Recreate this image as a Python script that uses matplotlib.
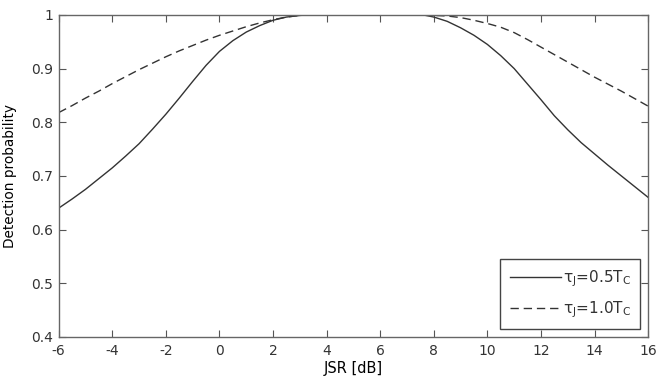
import matplotlib
matplotlib.use('Agg')
import matplotlib.pyplot as plt
import numpy as np

# JSR [dB] and detection probability
# (middle section lies on the top edge and is not drawn)
jsr = [-6, -5.5, -5, -4.5, -4, -3.5, -3, -2.5, -2, -1.5, -1, -0.5, 0, 0.5, 1, 1.5,
       2, 2.5, 3, 3.3, 7.3, 7.6, 8, 8.5, 9, 9.5, 10, 10.5, 11, 11.5, 12, 12.5, 13,
       13.5, 14, 14.5, 15, 15.5, 16]
pd_05 = [0.64, 0.657, 0.675, 0.695, 0.715, 0.737, 0.76, 0.787, 0.815, 0.845, 0.876,
         0.906, 0.932, 0.952, 0.968, 0.98, 0.99, 0.996, 0.999, 1.0,
         np.nan, 1.0, 0.996, 0.988, 0.976, 0.962, 0.945, 0.924, 0.9, 0.871, 0.842,
         0.812, 0.786, 0.762, 0.741, 0.72, 0.70, 0.68, 0.66]
pd_10 = [0.818, 0.831, 0.845, 0.858, 0.872, 0.885, 0.898, 0.91, 0.922, 0.933, 0.943,
         0.953, 0.962, 0.97, 0.978, 0.985, 0.991, 0.996, 0.999, 1.0,
         np.nan, 1.0, 0.999, 0.998, 0.995, 0.99, 0.984, 0.977, 0.967, 0.954, 0.94,
         0.926, 0.912, 0.898, 0.884, 0.871, 0.858, 0.844, 0.83]
labels = [r'$\tau_{\rm J}$=0.5T$_{\rm C}$', r'$\tau_{\rm J}$=1.0T$_{\rm C}$']

plt.rcParams['font.size'] = 10
plt.rcParams['axes.unicode_minus'] = False
plt.rcParams['mathtext.default'] = 'regular'
plt.rcParams['text.color'] = '#333333'
plt.rcParams['xtick.color'] = '#555555'
plt.rcParams['ytick.color'] = '#555555'
plt.rcParams['xtick.labelcolor'] = '#333333'
plt.rcParams['ytick.labelcolor'] = '#333333'

fig = plt.figure(figsize=(6.56, 3.82), dpi=100)
ax = fig.add_axes([0.0895, 0.118, 0.8985, 0.843])

x = np.array(jsr)
ax.plot(x, pd_05, color='#333333', lw=1.0, ls='-', label=labels[0])
ax.plot(x, pd_10, color='#333333', lw=1.0, ls=(0, (6, 3.5)), label=labels[1])

ax.set_xlim(-6, 16)
ax.set_ylim(0.4, 1)
ax.set_xticks(np.arange(-6, 17, 2))
ax.set_yticks(np.arange(0.4, 1.01, 0.1))
ax.set_yticklabels(['0.4', '0.5', '0.6', '0.7', '0.8', '0.9', '1'])
ax.tick_params(direction='in', top=True, right=True, length=5, width=0.8)
ax.tick_params(axis='x', pad=5)
ax.tick_params(axis='y', pad=4)
for s in ax.spines.values():
    s.set_color('#666666')
    s.set_linewidth(1.0)

ax.set_xlabel('JSR [dB]', labelpad=2, fontsize=10.5)
ax.set_ylabel('Detection probability', labelpad=10, fontsize=9.8)

leg = ax.legend(loc='lower right', fancybox=False, framealpha=1, edgecolor='#444444',
                handlelength=3.4, handletextpad=0.1, labelspacing=0.7,
                borderaxespad=0.5, borderpad=0.6, fontsize=11)
leg.get_frame().set_linewidth(1.0)

plt.savefig('out.png', dpi=100)
